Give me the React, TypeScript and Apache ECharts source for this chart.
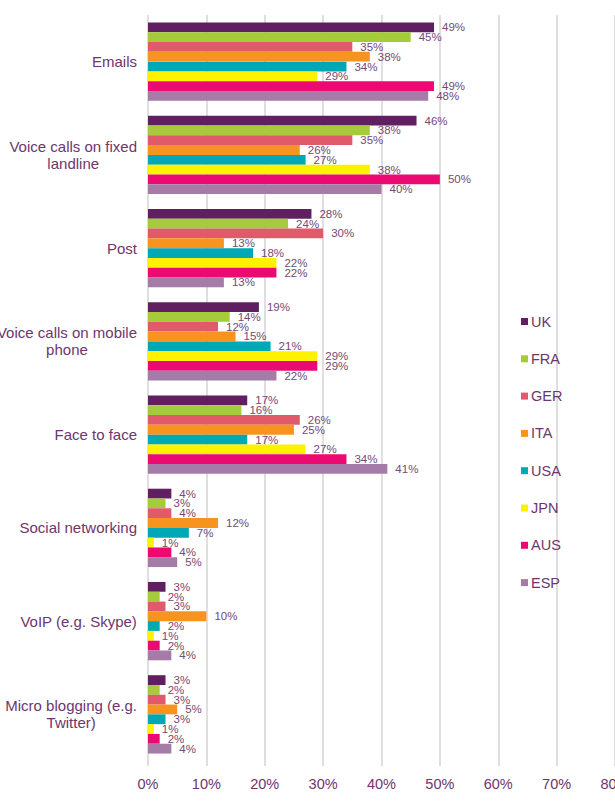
import React, { useEffect, useRef } from "react";
import * as echarts from "echarts";

const categories = [
  "Emails",
  "Voice calls on fixed\nlandline",
  "Post",
  "Voice calls on mobile\nphone",
  "Face to face",
  "Social networking",
  "VoIP (e.g. Skype)",
  "Micro blogging (e.g.\nTwitter)",
];

const countries = ["UK", "FRA", "GER", "ITA", "USA", "JPN", "AUS", "ESP"];

const ukValues = [49, 46, 28, 19, 17, 4, 3, 3];
const fraValues = [45, 38, 24, 14, 16, 3, 2, 2];
const gerValues = [35, 35, 30, 12, 26, 4, 3, 3];
const itaValues = [38, 26, 13, 15, 25, 12, 10, 5];
const usaValues = [34, 27, 18, 21, 17, 7, 2, 3];
const jpnValues = [29, 38, 22, 29, 27, 1, 1, 1];
const ausValues = [49, 50, 22, 29, 34, 4, 2, 2];
const espValues = [48, 40, 13, 22, 41, 5, 4, 4];

const seriesValues = [ukValues, fraValues, gerValues, itaValues, usaValues, jpnValues, ausValues, espValues];

const colors = ["#5f1f60", "#a5cb3a", "#e05a6a", "#f7941f", "#00a8b6", "#fff200", "#ec0a72", "#a57ba7"];

const xTicks = [0, 10, 20, 30, 40, 50, 60, 70, 80];

const textColor = "#6d366d";
const fontFamily = "'Liberation Sans', Arial, sans-serif";

export default function App() {
  const ref = useRef<HTMLDivElement>(null);

  useEffect(() => {
    if (!ref.current) return;
    const chart = echarts.init(ref.current, undefined, { renderer: "svg" });
    chart.setOption({
      animation: false,
      color: colors,
      textStyle: { fontFamily },
      legend: {
        orient: "vertical",
        left: 516,
        top: 309,
        itemWidth: 7,
        itemHeight: 7,
        itemGap: 22.3,
        icon: "rect",
        data: countries,
        textStyle: { color: textColor, fontSize: 14.5, fontFamily, padding: [0, 0, 0, -2] },
      },
      grid: {
        left: 148,
        top: 15,
        width: 467,
        height: 746,
        containLabel: false,
        outerBoundsMode: "none",
      },
      xAxis: {
        type: "value",
        min: xTicks[0],
        max: xTicks[xTicks.length - 1],
        interval: 10,
        axisLine: { show: false },
        axisTick: { show: true, length: 5, lineStyle: { color: "#d4d4d4", width: 1.5 } },
        splitLine: { show: true, lineStyle: { color: "#d4d4d4", width: 1.5 } },
        axisLabel: {
          color: textColor,
          fontSize: 14.5,
          margin: 15,
          hideOverlap: false,
          formatter: (v: number) => `${v}%`,
        },
      },
      yAxis: {
        type: "category",
        inverse: true,
        data: categories,
        axisLine: { show: false },
        axisTick: { show: false },
        axisLabel: {
          margin: 11,
          color: textColor,
          fontSize: 15,
          lineHeight: 17,
          formatter: (v: string) =>
            v
              .split("\n")
              .map((line) => `{c|${line}}`)
              .join("\n"),
          rich: {
            c: { align: "center", color: textColor, fontSize: 15, lineHeight: 17, fontFamily },
          },
        },
      },
      series: countries.map((name, i) => ({
        name,
        type: "bar",
        data: seriesValues[i],
        barGap: "0%",
        barCategoryGap: "16%",
        label: {
          show: true,
          position: "right",
          distance: 8,
          color: "#744a74",
          fontSize: 11.5,
          fontFamily,
          formatter: (p: any) => `${p.value}%`,
        },
      })),
    });
    return () => chart.dispose();
  }, []);

  return (
    <div
      ref={ref}
      style={{ position: "absolute", left: 0, top: 0, width: 615, height: 807 }}
    />
  );
}
